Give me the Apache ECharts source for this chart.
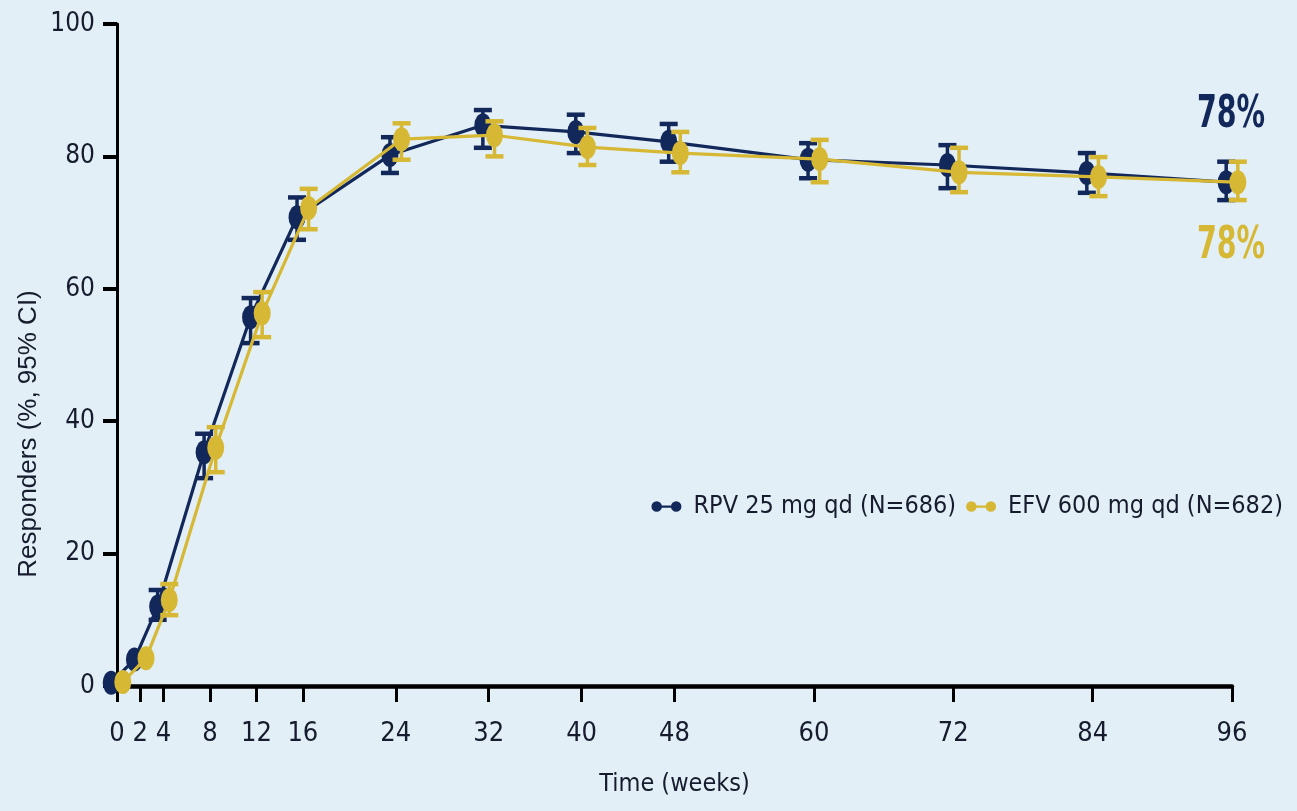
<!DOCTYPE html>
<html>
<head>
<meta charset="utf-8">
<title>Responders over time</title>
<script src="https://cdn.jsdelivr.net/npm/echarts@6/dist/echarts.min.js"></script>
<style>
  html, body { margin: 0; padding: 0; background: #e2eff6; }
  #chart { width: 1297px; height: 811px; }
</style>
</head>
<body>
<div id="chart"></div>
<script>
// Visit weeks (x axis ticks)
const weeks = [0, 2, 4, 8, 12, 16, 24, 32, 40, 48, 60, 72, 84, 96];

// RPV 25 mg qd: responders (%) with 95% CI
const rpvName = 'RPV 25 mg qd (N=686)';
const rpv     = [0.5, 4, 12, 35.3, 55.7, 70.8, 80.2, 84.7, 83.7, 82.2, 79.5, 78.7, 77.5, 76.1];
const rpvLow  = [null, null, 10, 31.4, 51.8, 67.4, 77.5, 81.3, 80.5, 79.2, 76.7, 75.2, 74.5, 73.4];
const rpvHigh = [null, null, 14.5, 38.1, 58.6, 73.8, 82.9, 87, 86.3, 84.9, 82, 81.7, 80.5, 79.2];

// EFV 600 mg qd: responders (%) with 95% CI
const efvName = 'EFV 600 mg qd (N=682)';
const efv     = [0.6, 4.2, 13, 36, 56.3, 72.2, 82.6, 83.2, 81.4, 80.5, 79.6, 77.6, 76.9, 76.1];
const efvLow  = [null, null, 10.7, 32.3, 52.7, 69, 79.5, 80, 78.7, 77.6, 76.1, 74.6, 74, 73.4];
const efvHigh = [null, null, 15.4, 39.1, 59.5, 75.1, 85, 85.3, 84.3, 83.7, 82.5, 81.3, 79.9, 79.2];

// Week-96 response rates shown at the right
const finalRates = ['78%', '78%'];

// Y axis ticks
const yMin = 0, yMax = 100, yStep = 20;

const NAVY = '#13285a';
const GOLD = '#d6b834';
const INK = '#161b2e';
const NARROW = "'Liberation Sans Narrow', 'DejaVu Sans Condensed', 'Arial Narrow', sans-serif";

// The two arms are drawn side by side around each visit week
const dodge = { rpv: -0.5, efv: 0.5 };

function pointsOf(values, shift) {
  return weeks.map((w, i) => [w + shift, values[i]]);
}
function barsOf(low, high, shift) {
  const out = [];
  weeks.forEach((w, i) => {
    if (low[i] != null && high[i] != null) out.push([w + shift, low[i], high[i]]);
  });
  return out;
}

// Whisker with end caps for the 95% CI
function errorBar(color) {
  return function (params, api) {
    const lo = api.coord([api.value(0), api.value(1)]);
    const hi = api.coord([api.value(0), api.value(2)]);
    const half = 9;
    return {
      type: 'group',
      children: [
        { type: 'line', shape: { x1: lo[0], y1: lo[1], x2: hi[0], y2: hi[1] }, style: { stroke: color, lineWidth: 3.5 } },
        { type: 'line', shape: { x1: lo[0] - half, y1: lo[1], x2: lo[0] + half, y2: lo[1] }, style: { stroke: color, lineWidth: 4.5 } },
        { type: 'line', shape: { x1: hi[0] - half, y1: hi[1], x2: hi[0] + half, y2: hi[1] }, style: { stroke: color, lineWidth: 4.5 } }
      ]
    };
  };
}

// Legend glyph: two dots joined by a bar
const dumbbell = 'path://M0,7A7,7,0,1,1,14,7A7,7,0,1,1,0,7Z M13,5.5L27,5.5L27,8.5L13,8.5Z M26,7A7,7,0,1,1,40,7A7,7,0,1,1,26,7Z';

const chart = echarts.init(document.getElementById('chart'), null, { renderer: 'canvas' });

chart.setOption({
  backgroundColor: '#e2eff6',
  animation: false,
  grid: { left: 117, right: 65, top: 24, bottom: 125, containLabel: false },
  legend: {
    data: [rpvName, efvName],
    right: 9,
    top: 489,
    orient: 'horizontal',
    icon: dumbbell,
    itemWidth: 30,
    itemHeight: 14,
    itemGap: 10,
    textStyle: { fontFamily: NARROW, fontSize: 25, color: INK, padding: [0, 0, 0, 7] }
  },
  xAxis: {
    type: 'value',
    min: 0,
    max: 96,
    name: 'Time (weeks)',
    nameLocation: 'middle',
    nameGap: 86,
    nameTextStyle: { fontFamily: NARROW, fontSize: 25, color: INK },
    axisLine: { show: true, onZero: false, lineStyle: { color: '#000', width: 4.5 } },
    axisTick: { show: true, customValues: weeks, length: 16, lineStyle: { color: '#000', width: 3 } },
    axisLabel: { customValues: weeks, fontFamily: NARROW, fontSize: 27, color: INK, margin: 34 },
    splitLine: { show: false }
  },
  yAxis: {
    type: 'value',
    min: yMin,
    max: yMax,
    interval: yStep,
    axisLine: { show: true, lineStyle: { color: '#000', width: 3 } },
    axisTick: { show: true, length: 14, lineStyle: { color: '#000', width: 4 } },
    axisLabel: { fontFamily: NARROW, fontSize: 26, color: INK, margin: 22 },
    splitLine: { show: false }
  },
  series: [
    {
      name: 'RPV CI',
      type: 'custom',
      renderItem: errorBar(NAVY),
      data: barsOf(rpvLow, rpvHigh, dodge.rpv),
      encode: { x: 0, y: [1, 2] },
      clip: false,
      z: 2
    },
    {
      name: rpvName,
      type: 'line',
      data: pointsOf(rpv, dodge.rpv),
      symbol: 'circle',
      symbolSize: [17, 24],
      clip: false,
      color: NAVY,
      lineStyle: { color: NAVY, width: 3.2 },
      itemStyle: { color: NAVY },
      z: 3
    },
    {
      name: 'EFV CI',
      type: 'custom',
      renderItem: errorBar(GOLD),
      data: barsOf(efvLow, efvHigh, dodge.efv),
      encode: { x: 0, y: [1, 2] },
      clip: false,
      z: 4
    },
    {
      name: efvName,
      type: 'line',
      data: pointsOf(efv, dodge.efv),
      symbol: 'circle',
      symbolSize: [17, 24],
      clip: false,
      color: GOLD,
      lineStyle: { color: GOLD, width: 3.2 },
      itemStyle: { color: GOLD },
      z: 5
    }
  ],
  graphic: [
    {
      type: 'text',
      x: 29,
      y: 434,
      rotation: Math.PI / 2,
      style: {
        text: 'Responders (%, 95% CI)',
        fontFamily: "'Liberation Sans', Arial, sans-serif",
        fontSize: 26,
        fill: INK,
        align: 'center',
        verticalAlign: 'middle'
      }
    },
    {
      type: 'text',
      x: 1231,
      y: 116,
      scaleX: 0.72,
      style: {
        text: finalRates[0],
        fontFamily: NARROW,
        fontWeight: 'bold',
        fontSize: 44,
        fill: NAVY,
        align: 'center',
        verticalAlign: 'middle'
      }
    },
    {
      type: 'text',
      x: 1231,
      y: 247,
      scaleX: 0.72,
      style: {
        text: finalRates[1],
        fontFamily: NARROW,
        fontWeight: 'bold',
        fontSize: 44,
        fill: GOLD,
        align: 'center',
        verticalAlign: 'middle'
      }
    }
  ]
});
</script>
</body>
</html>
